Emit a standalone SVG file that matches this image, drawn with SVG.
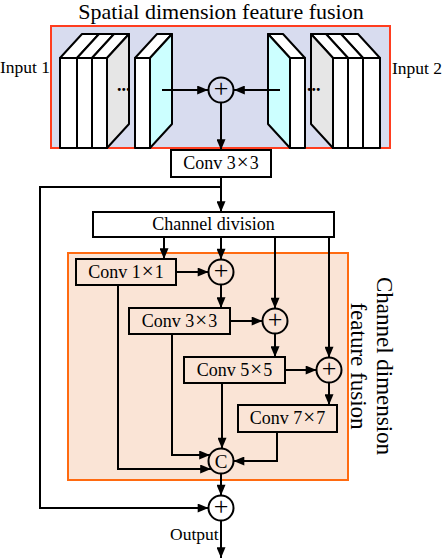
<svg xmlns="http://www.w3.org/2000/svg" xmlns:xlink="http://www.w3.org/1999/xlink" width="444" height="560" viewBox="0 0 444 560">
<style>
  .t { font-family: "Liberation Serif", "Times New Roman", serif; fill: #000; }
  .x { font-size: 21px; }
  .box { fill: #fff; stroke: #000; stroke-width: 2; }
  .obox { fill: none; stroke: #000; stroke-width: 2; }
  .ln { fill: none; stroke: #000; stroke-width: 2; }
  .arr { fill: none; stroke: #000; stroke-width: 2; marker-end: url(#ah); }
  .cir { fill: none; stroke: #000; stroke-width: 2; }
  .sl { stroke: #000; stroke-width: 2; stroke-linejoin: round; }
</style>
<defs>
  <marker id="ah" viewBox="0 0 12 10" refX="12" refY="5" markerWidth="12" markerHeight="9" orient="auto" markerUnits="userSpaceOnUse">
    <path d="M0,0 L12,5 L0,10 Z" fill="#000"/>
  </marker>
  <g id="slabs">
    <rect x="60" y="58" width="17" height="90" class="sl" fill="#fff"/>
    <rect x="77" y="58" width="15" height="90" class="sl" fill="#fff"/>
    <rect x="92" y="58" width="15" height="90" class="sl" fill="#fff"/>
    <polygon points="60,58 77,58 99,34 82,34" class="sl" fill="#fff"/>
    <polygon points="77,58 92,58 114,34 99,34" class="sl" fill="#fff"/>
    <polygon points="92,58 107,58 129,34 114,34" class="sl" fill="#fff"/>
    <polygon points="107,58 129,34 129,124 107,148" class="sl" fill="#e6e6e6"/>
    <rect x="135" y="58" width="15" height="90" class="sl" fill="#fff"/>
    <polygon points="135,58 150,58 172,34 157,34" class="sl" fill="#fff"/>
    <polygon points="150,58 172,34 172,124 150,148" class="sl" fill="#ccffff"/>
  </g>
</defs>

<text class="t" x="221" y="19" font-size="22" text-anchor="middle">Spatial dimension feature fusion</text>

<g id="spatial-panel">
  <rect x="51" y="26" width="339" height="122" fill="#d8dcef" stroke="#ff3d1f" stroke-width="2"/>
</g>
<g id="input1-tensors">
  <use xlink:href="#slabs"/>
  <text class="t" x="117" y="91" font-size="18" font-weight="bold">...</text>
</g>
<g id="input2-tensors">
  <use xlink:href="#slabs" transform="translate(440,0) scale(-1,1)"/>
  <text class="t" x="307" y="91" font-size="18" font-weight="bold">...</text>
</g>
<g id="label-input1"><text class="t" x="0" y="73" font-size="17.5">Input 1</text></g>
<g id="label-input2"><text class="t" x="392" y="74" font-size="17.5">Input 2</text></g>

<g id="add-spatial">
  <circle cx="221" cy="90" r="12.5" class="cir"/>
  <text class="t" x="221" y="97" font-size="26" text-anchor="middle">+</text>
</g>

<g id="conv3x3-top">
  <rect x="171" y="150" width="100" height="27" class="box"/>
  <text class="t" x="221" y="169" font-size="18" text-anchor="middle">Conv 3<tspan class="x" dx="1">×</tspan><tspan dx="1">3</tspan></text>
</g>

<g id="channel-division">
  <rect x="93" y="212" width="241" height="25" class="box"/>
  <text class="t" x="213.5" y="230" font-size="18" text-anchor="middle">Channel division</text>
</g>

<g id="channel-panel">
  <rect x="68" y="253" width="280" height="227" fill="#fae4d6" stroke="#ff6a10" stroke-width="2"/>
  <text class="t" font-size="23" text-anchor="middle" transform="translate(377,366) rotate(90)">Channel dimension<tspan x="0" dy="26">feature fusion</tspan></text>
</g>

<g id="conv1x1">
  <rect x="76" y="259" width="100" height="26" class="obox"/>
  <text class="t" x="126" y="278" font-size="18" text-anchor="middle">Conv 1<tspan class="x" dx="1">×</tspan><tspan dx="1">1</tspan></text>
</g>
<g id="add1">
  <circle cx="221" cy="272" r="12.5" class="cir"/>
  <text class="t" x="221" y="279" font-size="26" text-anchor="middle">+</text>
</g>
<g id="conv3x3">
  <rect x="129" y="308" width="101" height="26" class="obox"/>
  <text class="t" x="179.5" y="327" font-size="18" text-anchor="middle">Conv 3<tspan class="x" dx="1">×</tspan><tspan dx="1">3</tspan></text>
</g>
<g id="add2">
  <circle cx="275" cy="321" r="12.5" class="cir"/>
  <text class="t" x="275" y="328" font-size="26" text-anchor="middle">+</text>
</g>
<g id="conv5x5">
  <rect x="184" y="357" width="101" height="26" class="obox"/>
  <text class="t" x="234.5" y="376" font-size="18" text-anchor="middle">Conv 5<tspan class="x" dx="1">×</tspan><tspan dx="1">5</tspan></text>
</g>
<g id="add3">
  <circle cx="329" cy="370" r="12.5" class="cir"/>
  <text class="t" x="329" y="377" font-size="26" text-anchor="middle">+</text>
</g>
<g id="conv7x7">
  <rect x="238" y="405" width="99" height="27" class="obox"/>
  <text class="t" x="287.5" y="424" font-size="18" text-anchor="middle">Conv 7<tspan class="x" dx="1">×</tspan><tspan dx="1">7</tspan></text>
</g>
<g id="concat">
  <circle cx="221" cy="461" r="12.5" class="cir"/>
  <text class="t" x="221" y="467.5" font-size="19" text-anchor="middle">C</text>
</g>
<g id="add-output">
  <circle cx="221" cy="508" r="12.5" class="cir"/>
  <text class="t" x="221" y="515" font-size="26" text-anchor="middle">+</text>
</g>
<g id="label-output"><text class="t" x="170" y="540" font-size="17.5">Output</text></g>

<g id="connectors">
  <path class="arr" d="M162,90 H208"/>
  <path class="arr" d="M280,90 H234"/>
  <path class="arr" d="M221,102.5 V150"/>
  <path class="arr" d="M221,177 V212"/>
  <path class="arr" d="M221,187 H40 V508 H208.5"/>
  <path class="arr" d="M164,237 V259"/>
  <path class="arr" d="M221,237 V259.5"/>
  <path class="arr" d="M275,237 V308.5"/>
  <path class="arr" d="M329,237 V357.5"/>
  <path class="arr" d="M176,272 H208.5"/>
  <path class="arr" d="M221,284.5 V308"/>
  <path class="arr" d="M230,321 H262.5"/>
  <path class="arr" d="M275,333.5 V357"/>
  <path class="arr" d="M285,370 H316.5"/>
  <path class="arr" d="M329,382.5 V405"/>
  <path class="arr" d="M222,383 V448.5"/>
  <path class="arr" d="M172,334 V455 H210"/>
  <path class="arr" d="M118,285 V469 H211"/>
  <path class="arr" d="M277,432 V461 H233.5"/>
  <path class="arr" d="M221,473.5 V495.5"/>
  <path class="arr" d="M221,520.5 V558"/>
</g>
</svg>
